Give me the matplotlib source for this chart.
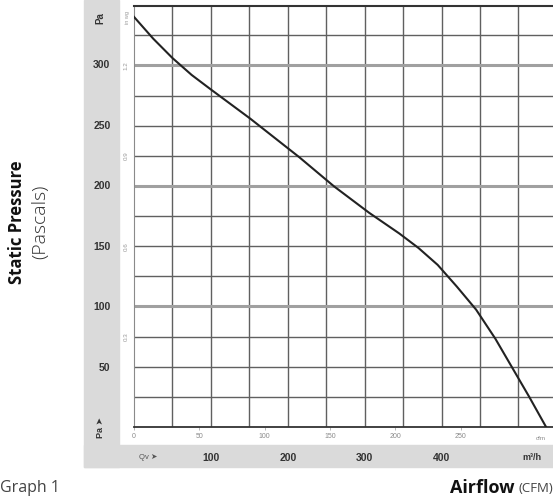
import numpy as np
import matplotlib
matplotlib.use("Agg")
import matplotlib.pyplot as plt
from matplotlib.patches import Rectangle

# fan curve (airflow in m3/h, static pressure in Pa)
flow_m3h = [0, 25, 50, 75, 100, 151, 215, 260, 306, 345, 370, 395, 420, 445, 470, 492, 514, 536]
pressure_pa = [339, 321, 305, 291, 279, 255, 223, 199, 177, 160, 148, 134, 116, 97, 73, 49, 25, 0]

pa_ticks = [50, 100, 150, 200, 250, 300]
inwg_ticks = [0.3, 0.6, 0.9, 1.2]
cfm_ticks = [0, 50, 100, 150, 200, 250]
m3h_ticks = [100, 200, 300, 400]

PA_PER_IN = 249.1
M3H_PER_CFM = 1.699

plt.rcParams['font.family'] = ['Liberation Sans', 'DejaVu Sans']

fig = plt.figure(figsize=(5.53, 5.0), dpi=100)
W, H = 553.0, 500.0

# gray label strips (behind the axes)
fig.patches.append(Rectangle((84/W, 33/H), 35/W, 1 - 33/H, transform=fig.transFigure,
                             color='#dadada', zorder=-5))
fig.patches.append(Rectangle((84/W, 33/H), 1 - 84/W, 22/H, transform=fig.transFigure,
                             color='#dadada', zorder=-5))

ax = fig.add_axes([134/W, 73/H, 419/W, 421/H])
ax.set_facecolor('white')
ax.set_xlim(0, 545)
ax.set_ylim(0, 348)

# inH2O scale
sec_y = ax.secondary_yaxis('left', functions=(lambda p: p / PA_PER_IN, lambda i: i * PA_PER_IN))
sec_y.set_yticks(inwg_ticks)
sec_y.set_yticklabels([str(i) for i in inwg_ticks], rotation=90, fontsize=4.5, color='#999999',
                      va='center')
sec_y.tick_params(length=0, pad=4)
sec_y.spines['left'].set_visible(False)

# cfm scale
sec_x = ax.secondary_xaxis('bottom', functions=(lambda m: m / M3H_PER_CFM, lambda c: c * M3H_PER_CFM))
sec_x.set_xticks(cfm_ticks)
sec_x.set_xticklabels([str(c) for c in cfm_ticks], fontsize=5, color='#8a8a8a')
sec_x.tick_params(length=2, width=0.6, color='#aaaaaa', pad=2.5)
sec_x.spines['bottom'].set_visible(False)

# grid: every 50 m3/h and every 0.1 inH2O
for v in np.arange(50, 545, 50):
    ax.axvline(v, color='#606060', lw=1.0, zorder=1)
for k in range(1, 14):
    if k % 4 == 0:
        ax.axhline(k*0.1*PA_PER_IN, color='#a0a0a0', lw=2.2, zorder=1)
    else:
        ax.axhline(k*0.1*PA_PER_IN, color='#606060', lw=1.0, zorder=1)

ax.plot(flow_m3h, pressure_pa, color='#222222', lw=1.5, zorder=3)

ax.spines['right'].set_visible(False)
ax.spines['top'].set_color('#333333')
ax.spines['top'].set_linewidth(1.5)
ax.spines['left'].set_color('#8a8a8a')
ax.spines['bottom'].set_color('#333333')
ax.spines['bottom'].set_linewidth(1.3)

# Pa labels in the gray strip
ax.yaxis.set_ticks_position('left')
ax.xaxis.set_ticks_position('bottom')
ax.set_yticks(pa_ticks)
ax.set_yticklabels([str(p) for p in pa_ticks], fontweight='bold', fontsize=7.5, color='#333333')
ax.tick_params(axis='y', length=0, pad=17)

# m3/h labels in the gray band
ax.set_xticks(m3h_ticks)
ax.set_xticklabels([str(m) for m in m3h_ticks], fontweight='bold', fontsize=7.5, color='#333333')
ax.tick_params(axis='x', length=0, pad=19)

# unit captions
fig.text(100/W, 1 - 18/H, 'Pa', rotation=90, fontsize=7, fontweight='bold', color='#333333',
         ha='center', va='center')
fig.text(127/W, 1 - 18/H, 'in wg', rotation=90, fontsize=4, color='#999999', ha='center', va='center')
fig.text(100/W, 1 - 428/H, 'Pa \u27a4', rotation=90, fontsize=6.5, fontweight='bold', color='#333333',
         ha='center', va='center')
fig.text(148/W, 1 - 457/H, 'Qv \u27a4', fontsize=5.5, color='#555555', ha='center', va='center')
fig.text(541/W, 1 - 438/H, 'cfm', fontsize=4.5, color='#8a8a8a', ha='center', va='center')
fig.text(532/W, 1 - 457/H, 'm\u00b3/h', fontsize=6.5, fontweight='bold', color='#333333',
         ha='center', va='center')

# outer labels
fig.text(17/W, 1 - 222/H, 'Static Pressure', rotation=90, fontsize=12, fontweight='bold',
         family='Open Sans', color='#111111', ha='center', va='center')
fig.text(40/W, 1 - 222/H, '(Pascals)', rotation=90, fontsize=14, family='Open Sans',
         fontweight='light', color='#333333', ha='center', va='center')
fig.text(0, 1 - 488/H, 'Graph 1', fontsize=11.5, family='Open Sans', color='#444444',
         ha='left', va='center')
fig.text(514/W, 1 - 488/H, 'Airflow', fontsize=13, fontweight='bold', family='Open Sans',
         color='#111111', ha='right', va='center')
fig.text(553/W, 1 - 488/H, '(CFM)', fontsize=9.5, family='Open Sans', color='#444444',
         ha='right', va='center')

fig.savefig('out.png', dpi=100)
